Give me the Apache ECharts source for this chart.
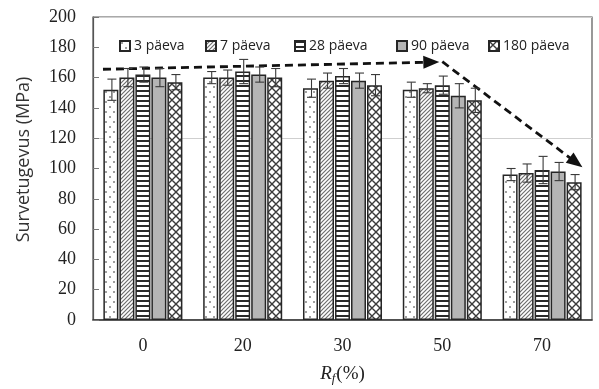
<!DOCTYPE html>
<html>
<head>
<meta charset="utf-8">
<script src="https://cdn.jsdelivr.net/npm/echarts@6/dist/echarts.min.js"></script>
<style>
  html, body { margin: 0; padding: 0; background: #fff; }
  #chart { width: 599px; height: 389px; }
</style>
</head>
<body>
<div id="chart"></div>
<script>
// Categories (recycled fraction, %)
var categories = ['0', '20', '30', '50', '70'];
var seriesNames = ['3 päeva', '7 päeva', '28 päeva', '90 päeva', '180 päeva'];

// Compressive strength, MPa
var d3   = [152, 160, 153, 152, 96];
var d7   = [160, 160, 158, 153, 97];
var d28  = [162, 164, 161, 155, 99];
var d90  = [160, 162, 158, 148, 98];
var d180 = [157, 160, 155, 145, 91];

// Standard deviations, MPa
var e3   = [7, 4, 6, 5, 4];
var e7   = [6, 5, 5, 3, 6];
var e28  = [5, 8, 5, 6, 9];
var e90  = [6, 5, 5, 8, 6];
var e180 = [5, 6, 7, 8, 5];

var yTicks = [0, 20, 40, 60, 80, 100, 120, 140, 160, 180, 200];

// Trend arrows in (group position, MPa) space
var trendFlat = [[0.10, 165.5], [3.39, 170.2]];
var trendDrop = [[3.50, 170.5], [4.84, 104]];

var values = [d3, d7, d28, d90, d180];
var errors = [e3, e7, e28, e90, e180];

function makePattern(kind) {
  var c = document.createElement('canvas');
  var ctx;
  if (kind === 'dots') {
    c.width = 8; c.height = 10; ctx = c.getContext('2d');
    ctx.fillStyle = '#fff'; ctx.fillRect(0, 0, 8, 10);
    ctx.fillStyle = '#a0a0a0';
    ctx.fillRect(1, 1, 2, 2);
    ctx.fillRect(5, 6, 2, 2);
  } else if (kind === 'diag') {
    c.width = 4; c.height = 4; ctx = c.getContext('2d');
    ctx.fillStyle = '#fff'; ctx.fillRect(0, 0, 4, 4);
    ctx.strokeStyle = '#6e6e6e'; ctx.lineWidth = 1.2;
    ctx.beginPath();
    ctx.moveTo(-1, 5); ctx.lineTo(5, -1);
    ctx.moveTo(-1, 1); ctx.lineTo(1, -1);
    ctx.moveTo(3, 5); ctx.lineTo(5, 3);
    ctx.stroke();
  } else if (kind === 'hstripe') {
    c.width = 4; c.height = 5; ctx = c.getContext('2d');
    ctx.fillStyle = '#fff'; ctx.fillRect(0, 0, 4, 5);
    ctx.fillStyle = '#2a2a2a'; ctx.fillRect(0, 0, 4, 2);
  } else if (kind === 'gray') {
    c.width = 4; c.height = 4; ctx = c.getContext('2d');
    ctx.fillStyle = '#b5b5b5'; ctx.fillRect(0, 0, 4, 4);
  } else {
    c.width = 8; c.height = 8; ctx = c.getContext('2d');
    ctx.fillStyle = '#fff'; ctx.fillRect(0, 0, 8, 8);
    ctx.strokeStyle = '#3a3a3a'; ctx.lineWidth = 1.4;
    ctx.beginPath();
    ctx.moveTo(0, 0); ctx.lineTo(8, 8);
    ctx.moveTo(8, 0); ctx.lineTo(0, 8);
    ctx.moveTo(-4, 4); ctx.lineTo(4, -4);
    ctx.moveTo(4, 12); ctx.lineTo(12, 4);
    ctx.moveTo(-4, 4); ctx.lineTo(4, 12);
    ctx.moveTo(4, -4); ctx.lineTo(12, 4);
    ctx.stroke();
  }
  return { image: c, repeat: 'repeat' };
}

var patterns = ['dots', 'diag', 'hstripe', 'gray', 'cross'].map(makePattern);

var BAR_W = 15, BAR_STEP = 16;
var serifFont = 'Liberation Serif';
var sansFont = 'Open Sans';

var series = [];
seriesNames.forEach(function (name, i) {
  series.push({
    name: name,
    type: 'bar',
    data: values[i],
    barWidth: BAR_W,
    barGap: '6.7%',
    itemStyle: { color: patterns[i], borderColor: '#262626', borderWidth: 1.5 },
    z: 2
  });
});

// Error bars
seriesNames.forEach(function (name, i) {
  series.push({
    type: 'custom',
    name: name + ' err',
    z: 5,
    silent: true,
    data: values[i].map(function (v, k) { return [k, v, errors[i][k]]; }),
    renderItem: function (params, api) {
      var k = api.value(0), v = api.value(1), e = api.value(2);
      var off = (i - 2) * BAR_STEP + 1;
      var top = api.coord([k, v + e]);
      var bot = api.coord([k, v - e]);
      var x = top[0] + off;
      var cap = 4.5;
      var st = { stroke: '#3a3a3a', lineWidth: 1.1, fill: null };
      return {
        type: 'group',
        children: [
          { type: 'line', shape: { x1: x, y1: top[1], x2: x, y2: bot[1] }, style: st },
          { type: 'line', shape: { x1: x - cap, y1: top[1], x2: x + cap, y2: top[1] }, style: st },
          { type: 'line', shape: { x1: x - cap, y1: bot[1], x2: x + cap, y2: bot[1] }, style: st }
        ]
      };
    }
  });
});

// Dashed trend arrows
series.push({
  type: 'line',
  name: 'trend',
  xAxisIndex: 1,
  yAxisIndex: 0,
  data: [],
  silent: true,
  z: 6,
  markLine: {
    silent: true,
    animation: false,
    symbol: ['none', 'triangle'],
    symbolSize: [13, 16],
    label: { show: false },
    lineStyle: { color: '#111', width: 2.8, type: [8, 5] },
    data: [
      [{ coord: trendFlat[0] }, { coord: trendFlat[1] }],
      [{ coord: trendDrop[0] }, { coord: trendDrop[1] }]
    ]
  }
});

var legendLeft = [114, 200, 289, 391, 483];
var legends = seriesNames.map(function (name, i) {
  return {
    data: [name],
    left: legendLeft[i],
    top: 34,
    itemWidth: 10,
    itemHeight: 10,
    itemGap: 6,
    icon: 'rect',
    selectedMode: false,
    textStyle: { fontFamily: sansFont, fontSize: 14, color: '#222', padding: [0, 0, 0, -1] }
  };
});

var chart = echarts.init(document.getElementById('chart'), null, { renderer: 'canvas' });
chart.setOption({
  animation: false,
  backgroundColor: '#fff',
  legend: legends,
  grid: {
    left: 93, right: 7, top: 17, bottom: 69,
    containLabel: false,
    outerBoundsMode: 'none',
    show: true, borderColor: '#555', borderWidth: 1.2
  },
  xAxis: [{
    type: 'category',
    data: categories,
    axisTick: { show: false },
    axisLine: { lineStyle: { color: '#333', width: 1.5 } },
    axisLabel: { fontFamily: serifFont, fontSize: 18, color: '#222', margin: 17 },
    name: '{r|R}{f|f}{p|(%)}',
    nameLocation: 'middle',
    nameGap: 43,
    nameTextStyle: {
      rich: {
        r: { fontFamily: serifFont, fontStyle: 'italic', fontSize: 19, color: '#222' },
        f: { fontFamily: serifFont, fontStyle: 'italic', fontSize: 13, color: '#222', verticalAlign: 'bottom', padding: [9, 1, 0, 0] },
        p: { fontFamily: serifFont, fontSize: 19, color: '#222' }
      }
    }
  }, {
    type: 'value',
    min: 0, max: 5,
    show: false
  }],
  yAxis: [{
    type: 'value',
    min: 0, max: 200, interval: 20,
    axisLine: { show: true, lineStyle: { color: '#555', width: 1.2 } },
    axisTick: { show: true, inside: true, length: 6, lineStyle: { color: '#777' } },
    axisLabel: {
      fontFamily: serifFont, fontSize: 18, color: '#222', margin: 17,
      formatter: function (v) { return yTicks.indexOf(v) >= 0 ? String(v) : ''; }
    },
    splitLine: { show: false },
    name: 'Survetugevus (MPa)',
    nameLocation: 'middle',
    nameGap: 60,
    nameTextStyle: { fontFamily: sansFont, fontSize: 18, color: '#333', padding: [0, 0, 0, 18] }
  }, {
    type: 'value',
    min: 0, max: 200, interval: 120,
    axisLine: { show: false },
    axisTick: { show: false },
    axisLabel: { show: false },
    splitLine: { show: true, lineStyle: { color: '#cfcfcf', width: 1 } }
  }],
  series: series
});
</script>
</body>
</html>
